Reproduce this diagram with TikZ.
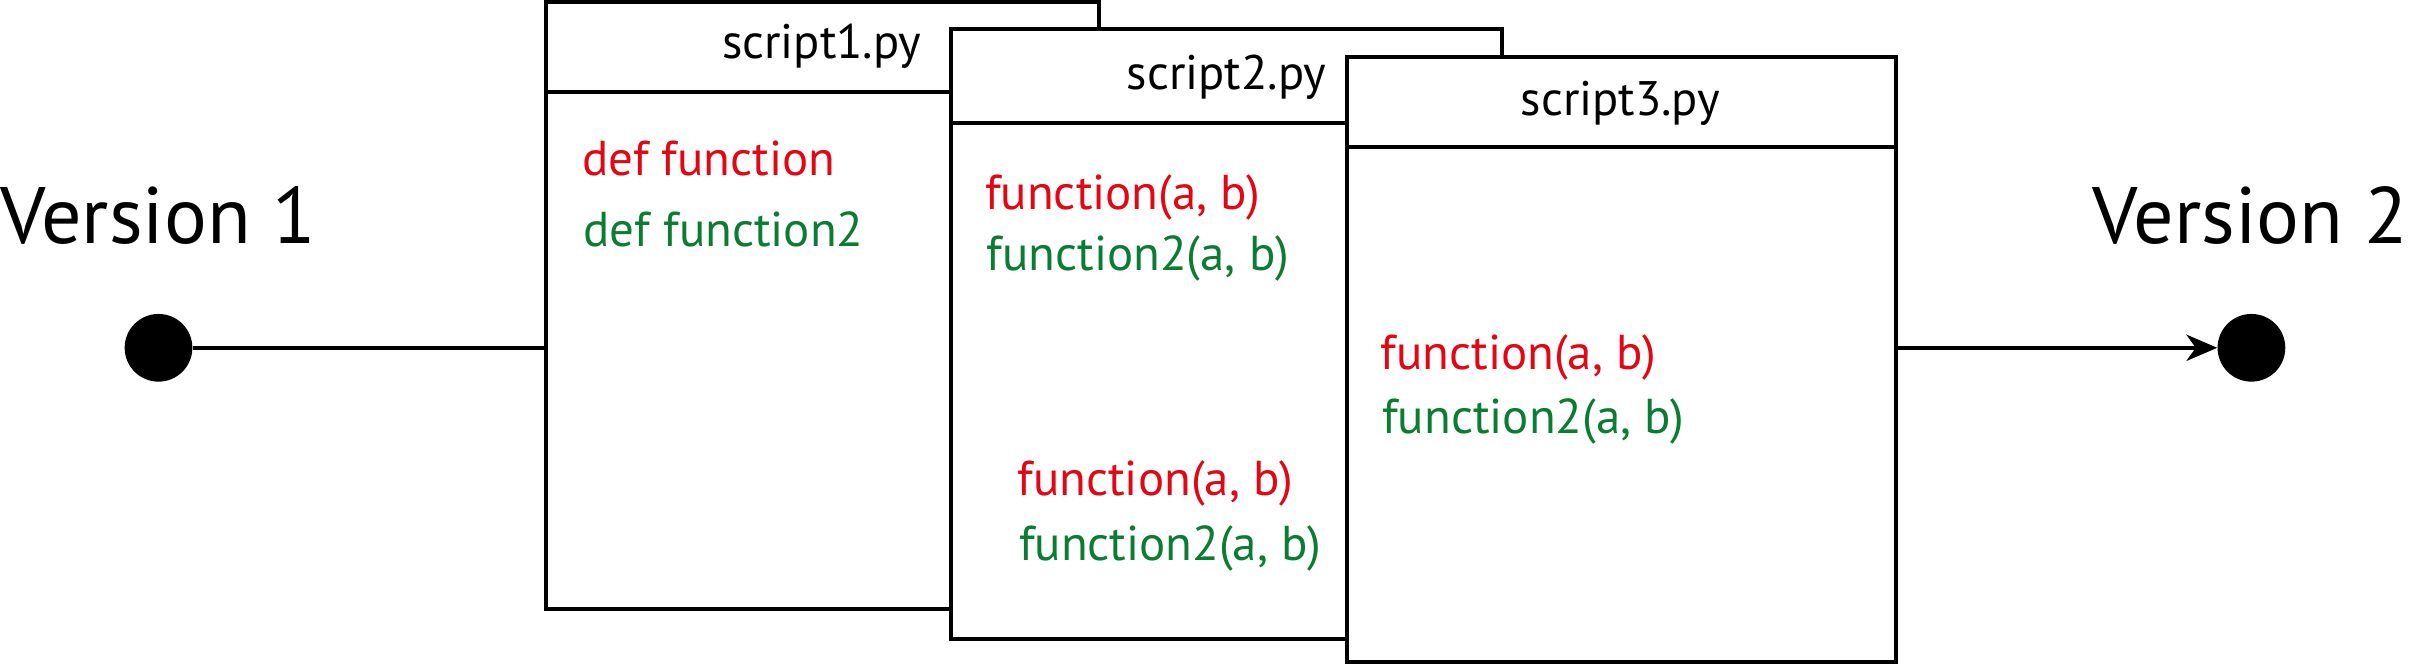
\documentclass[tikz,border=0pt]{standalone}
\usepackage{fontspec}
\setmainfont{PT Sans}
\usetikzlibrary{arrows.meta}
\definecolor{fred}{RGB}{227,6,19}
\definecolor{fgreen}{RGB}{10,125,50}
\newcommand\verfont{\fontsize{52}{60}\selectfont}
\newcommand\codefont{\fontsize{31.8}{36}\selectfont}
\newcommand\titlefont{\fontsize{31.5}{36}\selectfont}
\begin{document}
\begin{tikzpicture}[x=1pt,y=-1pt,
  filebox/.style={draw,fill=white,line width=2.6pt,inner sep=0pt,rectangle},
  dotnode/.style={circle,fill=black,inner sep=0pt,minimum size=44pt},
  vlabel/.style={inner sep=0pt,font=\verfont},
  ftitle/.style={inner sep=0pt,anchor=base,font=\titlefont},
  codered/.style={inner sep=0pt,anchor=base west,font=\codefont,text=fred},
  codegreen/.style={inner sep=0pt,anchor=base west,font=\codefont,text=fgreen},
  conn/.style={line width=2.6pt}
]
\useasboundingbox (0,0) rectangle (1568,431);

% version labels and dots
\node[vlabel,anchor=base west] (v1) at (0,158) {Version 1};
\node[vlabel,anchor=base east] (v2) at (1565,158) {Version 2};
\node[dotnode] (d1) at (103,226) {};
\node[dotnode] (d2) at (1463,226) {};

% script1
\node[filebox,minimum width=359pt,minimum height=395pt] (b1) at (534.5,198.5) {};
\draw[conn] ([yshift=-60pt]b1.north west) -- ([yshift=-60pt]b1.north east);
\node[ftitle] (t1) at (534,38) {script1.py};
\node[codered] (c1a) at (378,114) {def function};
\node[codegreen] (c1b) at (379,160) {def function2};

% script2
\node[filebox,minimum width=358pt,minimum height=396pt] (b2) at (797,217) {};
\draw[conn] ([yshift=-62pt]b2.north west) -- ([yshift=-62pt]b2.north east);
\node[ftitle] (t2) at (797,58) {script2.py};
\node[codered] (c2a) at (640,136) {function(a, b)};
\node[codegreen] (c2b) at (641,176) {function2(a, b)};
\node[codered] (c2c) at (661,322) {function(a, b)};
\node[codegreen] (c2d) at (662,364) {function2(a, b)};

% script3
\node[filebox,minimum width=357pt,minimum height=393pt] (b3) at (1053.5,233.5) {};
\draw[conn] ([yshift=-60pt]b3.north west) -- ([yshift=-60pt]b3.north east);
\node[ftitle] (t3) at (1053,75) {script3.py};
\node[codered] (c3a) at (897,240) {function(a, b)};
\node[codegreen] (c3b) at (898,282) {function2(a, b)};

% connectors
\draw[conn] (d1.east) -- (d1.east -| b1.west);
\draw[conn,-{Stealth[length=20pt,width=17pt,inset=6pt]}] (d2.west -| b3.east) -- (d2.west);
\end{tikzpicture}
\end{document}
